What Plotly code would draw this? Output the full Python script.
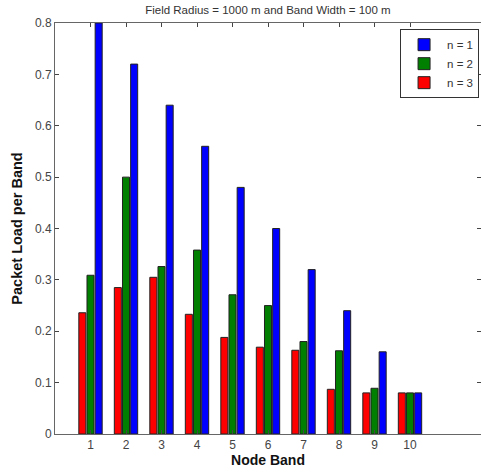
import plotly.graph_objects as go

bands = [1, 2, 3, 4, 5, 6, 7, 8, 9, 10]
load_n1 = [0.80, 0.72, 0.64, 0.56, 0.48, 0.40, 0.32, 0.24, 0.16, 0.08]
load_n2 = [0.309, 0.500, 0.326, 0.358, 0.271, 0.250, 0.180, 0.162, 0.089, 0.080]
load_n3 = [0.236, 0.285, 0.305, 0.233, 0.188, 0.169, 0.163, 0.087, 0.080, 0.080]
y_ticks = [0, 0.1, 0.2, 0.3, 0.4, 0.5, 0.6, 0.7, 0.8]
y_ticklabels = ["0", "0.1", "0.2", "0.3", "0.4", "0.5", "0.6", "0.7", "0.8"]

fig = go.Figure()
for name, vals, col in [("n = 3", load_n3, "#ff0000"),
                        ("n = 2", load_n2, "#007f00"),
                        ("n = 1", load_n1, "#0000ff")]:
    fig.add_trace(go.Bar(x=bands, y=vals, name=name,
                         marker=dict(color=col, line=dict(color="#222222", width=1))))

fig.update_layout(
    width=481, height=472,
    margin=dict(l=55, r=0, t=23, b=38),
    paper_bgcolor="white", plot_bgcolor="white",
    barmode="group", bargap=0.31, bargroupgap=0.14,
    font=dict(family="Liberation Sans, Arial", color="#333333"),
    title=dict(text="Field Radius = 1000 m and Band Width = 100 m",
               x=0.557, xref="container", xanchor="center",
               y=1 - 10 / 472, yref="container", yanchor="middle",
               font=dict(size=11.5, color="#333333")),
    legend=dict(x=0.81, y=0.985, xanchor="left", yanchor="top",
                traceorder="reversed", bgcolor="white",
                bordercolor="#333333", borderwidth=1,
                font=dict(size=11.5, color="#333333"),
                tracegroupgap=0, itemwidth=36),
    xaxis=dict(range=[0, 12], tickvals=bands, ticks="inside", ticklen=4,
               showline=True, linecolor="#666666", linewidth=1, mirror="ticks",
               showgrid=False, zeroline=False,
               tickfont=dict(size=12, color="#444444"),
               title=dict(text="<b>Node Band</b>", font=dict(size=14, color="#111111"), standoff=2)),
    yaxis=dict(range=[0, 0.8], tickvals=y_ticks, ticktext=y_ticklabels,
               ticks="inside", ticklen=4,
               showline=True, linecolor="#666666", linewidth=1, mirror="ticks",
               showgrid=False, zeroline=False,
               tickfont=dict(size=12, color="#444444"),
               title=dict(text="<b>Packet Load per Band</b>", font=dict(size=14.5, color="#111111"), standoff=8)),
)

fig.write_html("out.html")
